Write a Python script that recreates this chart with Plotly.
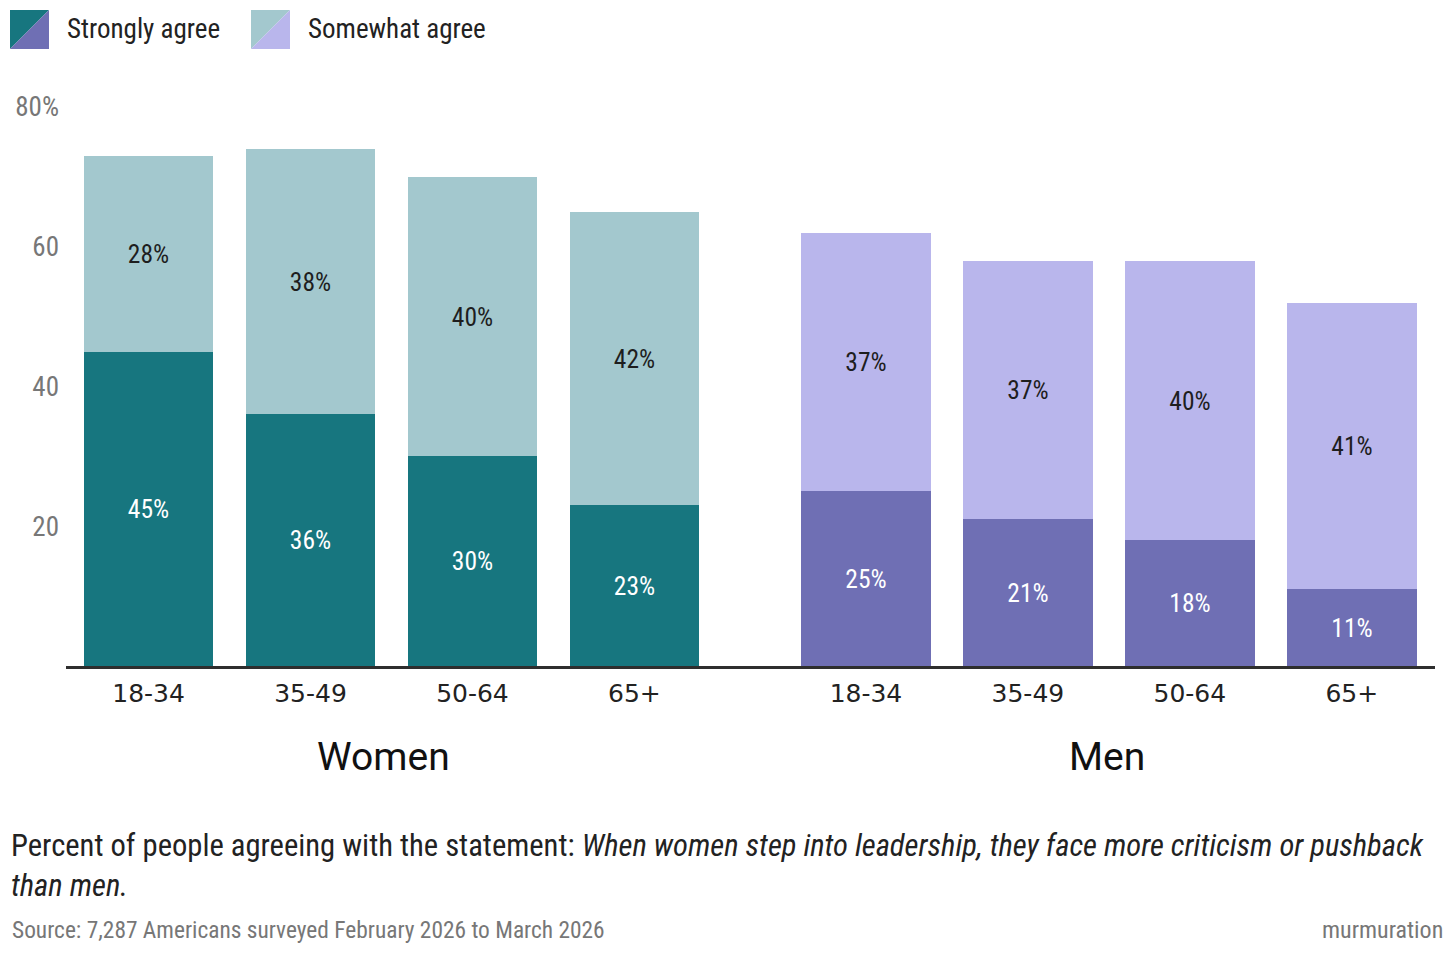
import plotly.graph_objects as go

ages = ["18-34", "35-49", "50-64", "65+"]
groups = ["Women", "Men"]
women_strong = [45, 36, 30, 23]
women_somewhat = [28, 38, 40, 42]
men_strong = [25, 21, 18, 11]
men_somewhat = [37, 37, 40, 41]
y_ticks = [20, 40, 60, 80]
y_ticktext = ["20", "40", "60", "80%"]

C_W_STRONG = "#17767f"
C_W_SOME = "#a3c8ce"
C_M_STRONG = "#6f6fb4"
C_M_SOME = "#b9b6ec"

FONT = "Roboto Condensed, DejaVu Sans Condensed, Roboto"
FONT2 = "Roboto"
FONT_TICK = "DejaVu Sans"

OFF = 8
W, H = 1456 - 2 * OFF, 957 - 2 * OFF
# reference-pixel coordinates of plot area
PL, PR, PT, PB = 66, 1435, 107, 666


def pxx(p):
    return (p - PL) / (PR - PL)


def pxy(p):
    return (PB - p) / (PB - PT)


GROUP_GAP = 1.43
x_women = [i for i in range(len(ages))]
x_men = [i + len(ages) - 1 + GROUP_GAP for i in range(len(ages))]

fig = go.Figure()


def add(x, vals, color, txtcolor):
    fig.add_trace(go.Bar(
        x=x, y=vals, width=0.8,
        marker=dict(color=color, line=dict(width=0)),
        text=[f"{v}%" for v in vals], textposition="inside",
        insidetextanchor="middle", textangle=0, constraintext="none",
        textfont=dict(family=FONT, size=25.5, color=txtcolor),
        showlegend=False, hoverinfo="skip",
    ))


add(x_women, women_strong, C_W_STRONG, "white")
add(x_women, women_somewhat, C_W_SOME, "#1e1e1e")
add(x_men, men_strong, C_M_STRONG, "white")
add(x_men, men_somewhat, C_M_SOME, "#1e1e1e")

shapes = []


def legend_square(x0, y0, size, c1, c2):
    X0, X1 = pxx(x0), pxx(x0 + size)
    Y0, Y1 = pxy(y0), pxy(y0 + size)
    shapes.append(dict(type="path", xref="paper", yref="paper",
                       path=f"M {X0},{Y0} L {X1},{Y0} L {X0},{Y1} Z",
                       fillcolor=c1, line=dict(width=0)))
    shapes.append(dict(type="path", xref="paper", yref="paper",
                       path=f"M {X1},{Y0} L {X1},{Y1} L {X0},{Y1} Z",
                       fillcolor=c2, line=dict(width=0)))


legend_square(10, 10, 39, C_W_STRONG, C_M_STRONG)
legend_square(251, 10, 39, C_W_SOME, C_M_SOME)

annotations = [
    dict(text="Strongly agree", x=pxx(65), y=pxy(29), xref="paper", yref="paper",
         xanchor="left", yanchor="middle", showarrow=False,
         font=dict(family=FONT, size=27, color="#222222")),
    dict(text="Somewhat agree", x=pxx(306), y=pxy(29), xref="paper", yref="paper",
         xanchor="left", yanchor="middle", showarrow=False,
         font=dict(family=FONT, size=27, color="#222222")),
    dict(text="Percent of people agreeing with the statement: <i>When women step into leadership, they face more criticism or pushback</i><br><i>than men.</i>",
         x=pxx(9), y=pxy(865), xref="paper", yref="paper",
         xanchor="left", yanchor="middle", align="left", showarrow=False,
         font=dict(family=FONT, size=30.6, color="#222222")),
    dict(text="Source: 7,287 Americans surveyed February 2026 to March 2026",
         x=pxx(10), y=pxy(930), xref="paper", yref="paper",
         xanchor="left", yanchor="middle", showarrow=False,
         font=dict(family=FONT, size=23.4, color="#777777")),
    dict(text="murmuration",
         x=pxx(1445), y=pxy(930), xref="paper", yref="paper",
         xanchor="right", yanchor="middle", showarrow=False,
         font=dict(family=FONT, size=24, color="#777777")),
]

group_px = [383, 1107]
for g, gx in zip(groups, group_px):
    annotations.append(dict(text=g, x=pxx(gx), y=pxy(757), xref="paper", yref="paper",
                            xanchor="center", yanchor="middle", showarrow=False,
                            font=dict(family=FONT2, size=39, color="#111111")))

fig.update_layout(
    width=W, height=H,
    margin=dict(l=PL - OFF, r=W - (PR - OFF), t=PT - OFF, b=H - (PB - OFF), pad=0),
    paper_bgcolor="white", plot_bgcolor="white",
    barmode="stack", bargap=0,
    shapes=shapes, annotations=annotations,
    xaxis=dict(range=[-0.51, x_men[-1] + 0.514], tickvals=x_women + x_men,
               ticktext=ages + ages, showgrid=False, zeroline=False,
               showline=True, linecolor="#2e2e2e", linewidth=3, ticks="",
               ticklabelstandoff=3, automargin=False,
               tickfont=dict(family=FONT_TICK, size=25, color="#222222")),
    yaxis=dict(range=[0, 80], tickvals=y_ticks, ticktext=y_ticktext,
               showgrid=False, zeroline=False, showline=False, ticks="",
               ticklabelstandoff=6, automargin=False,
               tickfont=dict(family=FONT, size=27, color="#777777")),
)

fig.write_html("out.html")
